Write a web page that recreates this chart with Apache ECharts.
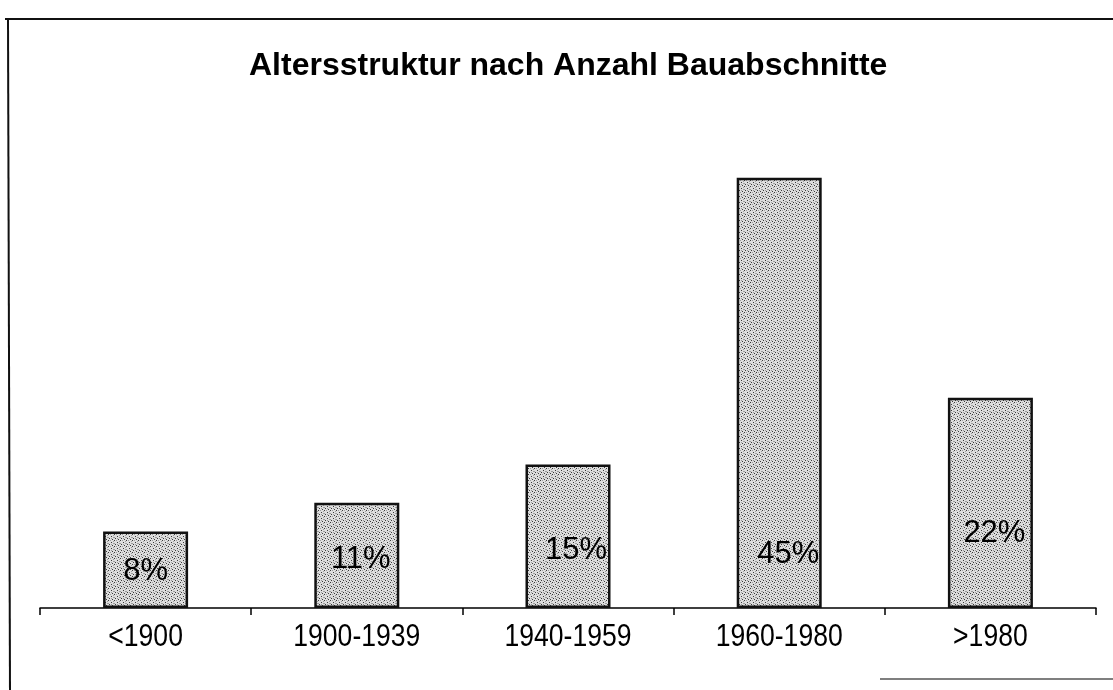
<!DOCTYPE html>
<html>
<head>
<meta charset="utf-8">
<title>Altersstruktur nach Anzahl Bauabschnitte</title>
<script src="https://cdn.jsdelivr.net/npm/echarts@6/dist/echarts.min.js"></script>
<style>
  html, body { margin: 0; padding: 0; background: #fff; }
  #chart { width: 1113px; height: 690px; }
</style>
</head>
<body>
<div id="chart"></div>
<script>
// Baualtersklassen und Anteil der Bauabschnitte (%)
const categories = ['<1900', '1900-1939', '1940-1959', '1960-1980', '>1980'];
const shares = [8, 11, 15, 45, 22];
const titleText = 'Altersstruktur nach Anzahl Bauabschnitte';

// Label placement inside each bar (x shift, y shift in px)
const labelNudge = [[0, -21], [4, -33], [8, -42], [9, -38], [4, -59]];

// Stippled grey fill for the bars
function stipple() {
  const c = document.createElement('canvas');
  c.width = 6; c.height = 6;
  const g = c.getContext('2d');
  g.fillStyle = '#dedede';
  g.fillRect(0, 0, 6, 6);
  const dark = [[0, 0], [3, 2], [1, 4], [4, 5]];
  const mid = [[2, 0], [5, 1], [0, 3], [3, 4], [5, 3]];
  g.fillStyle = '#3a3a3a';
  dark.forEach(p => g.fillRect(p[0], p[1], 1, 1));
  g.fillStyle = '#9c9c9c';
  mid.forEach(p => g.fillRect(p[0], p[1], 1, 1));
  return c;
}

const sans = "'Liberation Sans', Arial, sans-serif";
const chart = echarts.init(document.getElementById('chart'), null, { renderer: 'canvas' });
const pattern = { image: stipple(), repeat: 'repeat' };

// Frame lines around the chart area
const frame = [
  { type: 'line', shape: { x1: 5, y1: 19, x2: 1113, y2: 19 }, style: { stroke: '#111', lineWidth: 2 } },
  { type: 'line', shape: { x1: 8, y1: 19, x2: 10, y2: 690 }, style: { stroke: '#111', lineWidth: 2 } },
  { type: 'line', shape: { x1: 880, y1: 679, x2: 1113, y2: 679 }, style: { stroke: '#555', lineWidth: 1.5 } }
];

chart.setOption({
  animation: false,
  backgroundColor: '#ffffff',
  title: {
    text: titleText,
    left: 244,
    top: 45,
    textStyle: {
      fontFamily: sans,
      fontWeight: 'bold',
      fontSize: 32,
      color: '#000'
    }
  },
  grid: { left: 40, right: 17, top: 130, bottom: 82 },
  xAxis: {
    type: 'category',
    data: categories,
    axisLine: { lineStyle: { color: '#000', width: 1.5 } },
    axisTick: { show: true, inside: false, length: 7, lineStyle: { color: '#000', width: 1.5 } },
    axisLabel: { show: false }
  },
  yAxis: {
    type: 'value',
    min: 0,
    max: 50,
    show: false,
    splitLine: { show: false }
  },
  series: [{
    type: 'bar',
    barWidth: 85,
    data: shares.map((v, i) => ({
      value: v,
      label: { offset: labelNudge[i] }
    })),
    itemStyle: {
      color: pattern,
      borderColor: '#111',
      borderWidth: 2.5
    },
    label: {
      show: true,
      position: 'insideBottom',
      distance: 0,
      formatter: p => p.value + '%',
      fontFamily: sans,
      fontSize: 31,
      color: '#000'
    }
  }],
  graphic: frame
});

// Category labels: tall, slightly condensed lettering placed at each category's axis position
const baseY = chart.convertToPixel({ yAxisIndex: 0 }, 0);
const catLabels = categories.map(c => ({
  type: 'text',
  x: chart.convertToPixel({ xAxisIndex: 0 }, c),
  y: baseY + 29,
  scaleX: 0.83,
  style: {
    text: c,
    align: 'center',
    verticalAlign: 'middle',
    font: '32px ' + sans,
    fill: '#000'
  }
}));
chart.setOption({ graphic: frame.concat(catLabels) });
</script>
</body>
</html>
